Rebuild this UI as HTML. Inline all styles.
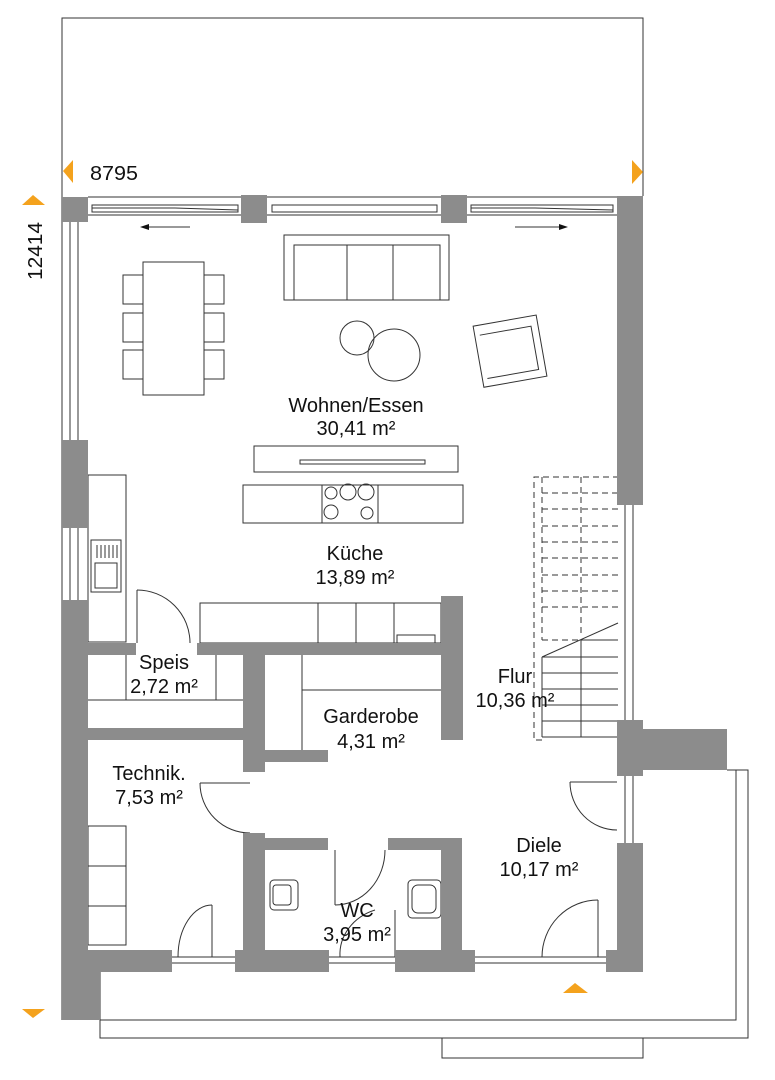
<!DOCTYPE html>
<html><head><meta charset="utf-8"><style>
html,body{margin:0;padding:0;background:#fff;width:775px;height:1080px;overflow:hidden}
svg{display:block}
text{font-family:"Liberation Sans",sans-serif;fill:#111}
</style></head><body>
<svg width="775" height="1080" viewBox="0 0 775 1080" xmlns="http://www.w3.org/2000/svg">
<g fill="none" stroke="#333" stroke-width="1">
<polyline points="62,1020 62,18 643,18 643,196"/>
<polyline points="100,972 100,1020 736,1020 736,770"/>
<polyline points="100,1020 100,1038 748,1038 748,770 727,770"/>
<rect x="442" y="1038" width="201" height="20"/>
<line x1="88" y1="197" x2="617" y2="197"/>
<line x1="88" y1="215" x2="241" y2="215"/><line x1="267" y1="215" x2="441" y2="215"/><line x1="467" y1="215" x2="617" y2="215"/>
<rect x="92" y="205" width="146" height="7"/><line x1="92" y1="208" x2="175" y2="208"/><line x1="175" y1="208" x2="238" y2="210"/>
<rect x="272" y="205" width="165" height="7"/>
<rect x="471" y="205" width="142" height="7"/><line x1="471" y1="208" x2="535" y2="208"/><line x1="535" y1="208" x2="613" y2="210"/>
<line x1="70" y1="222" x2="70" y2="440"/><line x1="78" y1="222" x2="78" y2="440"/>
<line x1="70" y1="528" x2="70" y2="600"/><line x1="78" y1="528" x2="78" y2="600"/>
<line x1="625" y1="505" x2="625" y2="720"/><line x1="633" y1="505" x2="633" y2="720"/>
<line x1="625" y1="776" x2="625" y2="843"/><line x1="633" y1="776" x2="633" y2="843"/>
<line x1="172" y1="957" x2="235" y2="957"/><line x1="172" y1="963" x2="235" y2="963"/>
<line x1="329" y1="957" x2="395" y2="957"/><line x1="329" y1="963" x2="395" y2="963"/>
<line x1="475" y1="957" x2="606" y2="957"/><line x1="475" y1="963" x2="606" y2="963"/>
<rect x="284" y="235" width="165" height="65"/>
<rect x="294" y="245" width="146" height="55"/>
<line x1="347" y1="245" x2="347" y2="300"/><line x1="393" y1="245" x2="393" y2="300"/>
<rect x="143" y="262" width="61" height="133"/>
<rect x="123" y="275" width="20" height="29"/><rect x="123" y="313" width="20" height="29"/><rect x="123" y="350" width="20" height="29"/>
<rect x="204" y="275" width="20" height="29"/><rect x="204" y="313" width="20" height="29"/><rect x="204" y="350" width="20" height="29"/>
<circle cx="357" cy="338" r="17"/><circle cx="394" cy="355" r="26"/>
<g transform="rotate(-10 511 351)"><rect x="478" y="320" width="64" height="62"/><polyline points="483,330 535,330 535,374 483,374"/></g>
<rect x="254" y="446" width="204" height="26"/>
<rect x="300" y="460" width="125" height="4"/>
<rect x="243" y="485" width="220" height="38"/>
<line x1="322" y1="485" x2="322" y2="523"/><line x1="378" y1="485" x2="378" y2="523"/>
<circle cx="331" cy="493" r="6"/><circle cx="348" cy="492" r="8"/><circle cx="366" cy="492" r="8"/>
<circle cx="331" cy="512" r="7"/><circle cx="367" cy="513" r="6"/>
<rect x="88" y="475" width="38" height="167"/>
<rect x="91" y="540" width="30" height="52"/><rect x="95" y="563" width="22" height="25"/>
<line x1="97" y1="545" x2="97" y2="558"/><line x1="101" y1="545" x2="101" y2="558"/><line x1="105" y1="545" x2="105" y2="558"/><line x1="109" y1="545" x2="109" y2="558"/><line x1="113" y1="545" x2="113" y2="558"/><line x1="117" y1="545" x2="117" y2="558"/>
<rect x="200" y="603" width="241" height="40"/>
<line x1="318" y1="603" x2="318" y2="643"/><line x1="356" y1="603" x2="356" y2="643"/><line x1="394" y1="603" x2="394" y2="643"/>
<rect x="397" y="635" width="38" height="8"/>
<line x1="137" y1="590" x2="137" y2="643"/><path d="M137,590 A53,53 0 0 1 190,643"/>
<line x1="126" y1="655" x2="126" y2="700"/><line x1="216" y1="655" x2="216" y2="700"/><line x1="88" y1="700" x2="243" y2="700"/>
<line x1="302" y1="655" x2="302" y2="750"/><line x1="302" y1="690" x2="441" y2="690"/>
<line x1="200" y1="783" x2="250" y2="783"/><path d="M200,783 A50,50 0 0 0 250,833"/>
<rect x="88" y="826" width="38" height="119"/><line x1="88" y1="866" x2="126" y2="866"/><line x1="88" y1="906" x2="126" y2="906"/>
<line x1="212" y1="905" x2="212" y2="957"/><path d="M178,957 A34,52 0 0 1 212,905"/>
<line x1="598" y1="900" x2="598" y2="957"/><path d="M542,957 A56,57 0 0 1 598,900"/>
<line x1="335" y1="850" x2="335" y2="905"/><path d="M335,905 A50,55 0 0 0 385,850"/>
<line x1="395" y1="910" x2="395" y2="957"/><path d="M340,957 A52,47 0 0 1 375,910"/>
<line x1="570" y1="782" x2="617" y2="782"/><path d="M570,782 A47,48 0 0 0 617,830"/>
<rect x="270" y="880" width="28" height="30" rx="4"/><rect x="273" y="885" width="18" height="20" rx="3"/>
<rect x="408" y="880" width="33" height="38" rx="4"/><rect x="412" y="885" width="24" height="28" rx="6"/>
<g stroke-dasharray="6,4">
<polyline points="542,740 534,740 534,477 618,477"/>
<line x1="542" y1="477" x2="542" y2="640"/>
<line x1="581" y1="477" x2="581" y2="637"/>
<line x1="542" y1="493" x2="618" y2="493"/><line x1="542" y1="509" x2="618" y2="509"/><line x1="542" y1="526" x2="618" y2="526"/><line x1="542" y1="542" x2="618" y2="542"/><line x1="542" y1="558" x2="618" y2="558"/><line x1="542" y1="575" x2="618" y2="575"/><line x1="542" y1="591" x2="618" y2="591"/><line x1="542" y1="607" x2="618" y2="607"/><line x1="542" y1="640" x2="581" y2="640"/>
</g>
<line x1="542" y1="657" x2="618" y2="623"/>
<line x1="542" y1="657" x2="542" y2="737"/><line x1="581" y1="640" x2="581" y2="737"/>
<line x1="581" y1="640" x2="618" y2="640"/><line x1="542" y1="657" x2="618" y2="657"/><line x1="542" y1="673" x2="618" y2="673"/><line x1="542" y1="689" x2="618" y2="689"/><line x1="542" y1="705" x2="618" y2="705"/><line x1="542" y1="721" x2="618" y2="721"/><line x1="542" y1="737" x2="618" y2="737"/>
<line x1="148" y1="227" x2="190" y2="227"/><line x1="515" y1="227" x2="560" y2="227"/>
</g>
<polygon points="140,227 149,224 149,230" fill="#111"/><polygon points="568,227 559,224 559,230" fill="#111"/>
<g fill="#8c8c8c">
<rect x="62" y="197" width="26" height="25"/><rect x="241" y="195" width="26" height="28"/><rect x="441" y="195" width="26" height="28"/>
<rect x="617" y="196" width="26" height="309"/>
<rect x="62" y="440" width="26" height="88"/>
<rect x="62" y="600" width="26" height="420"/><rect x="62" y="950" width="110" height="22"/><rect x="62" y="972" width="38" height="48"/>
<rect x="235" y="950" width="94" height="22"/><rect x="395" y="950" width="80" height="22"/><rect x="606" y="950" width="37" height="22"/>
<rect x="617" y="843" width="26" height="129"/>
<rect x="617" y="720" width="26" height="56"/><rect x="643" y="729" width="84" height="41"/>
<rect x="88" y="643" width="48" height="12"/><rect x="197" y="643" width="265" height="12"/>
<rect x="441" y="596" width="22" height="144"/>
<rect x="243" y="655" width="22" height="117"/><rect x="265" y="750" width="63" height="12"/>
<rect x="88" y="728" width="155" height="12"/>
<rect x="243" y="833" width="22" height="117"/><rect x="265" y="838" width="63" height="12"/>
<rect x="388" y="838" width="74" height="12"/><rect x="441" y="850" width="21" height="100"/>
</g>
<g fill="#f4a21d">
<polygon points="73,160 73,183 63,171"/><polygon points="632,160 632,184 643,172"/>
<polygon points="22,205 45,205 33,195"/><polygon points="22,1009 45,1009 33,1018"/>
<polygon points="563,993 588,993 575,983"/>
</g>
<text x="90" y="180" font-size="20" textLength="48" lengthAdjust="spacingAndGlyphs">8795</text>
<text transform="translate(42,280) rotate(-90)" font-size="20" textLength="58" lengthAdjust="spacingAndGlyphs">12414</text>
<g font-size="20" text-anchor="middle">
<text x="356" y="412">Wohnen/Essen</text><text x="356" y="435">30,41 m²</text>
<text x="355" y="560">Küche</text><text x="355" y="584">13,89 m²</text>
<text x="164" y="669">Speis</text><text x="164" y="693">2,72 m²</text>
<text x="371" y="723">Garderobe</text><text x="371" y="748">4,31 m²</text>
<text x="515" y="683">Flur</text><text x="515" y="707">10,36 m²</text>
<text x="149" y="780">Technik.</text><text x="149" y="804">7,53 m²</text>
<text x="539" y="852">Diele</text><text x="539" y="876">10,17 m²</text>
<text x="357" y="917">WC</text><text x="357" y="941">3,95 m²</text>
</g>
</svg>
</body></html>
